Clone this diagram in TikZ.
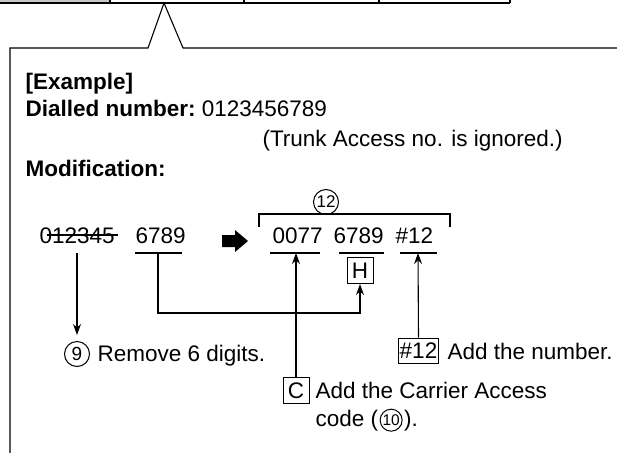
\documentclass[tikz,border=0pt]{standalone}
\usepackage{fontspec}
\setmainfont{Liberation Sans}
\usetikzlibrary{arrows.meta}
\usetikzlibrary{positioning}

\tikzset{
    txt/.style={anchor=base west,inner sep=0pt},
    keybox/.style={draw,line width=1pt,inner sep=1.5pt,minimum width=26pt,minimum height=26pt},
    circnum/.style={draw,circle,line width=1pt,inner sep=0pt,minimum size=#1},
    arr/.style={-{Stealth[length=11pt,width=8pt]}}
}

\begin{document}
\begin{tikzpicture}[x=1pt,y=-1pt,line width=1.1pt,font=\fontsize{22.5}{27}\selectfont]
        \useasboundingbox (0,0) rectangle (617,452);

        \fill[black!22] (0,0) rectangle (110,3);
        \draw (0,3) -- (510,3);
        \foreach \x in {110,244,379,510} \draw (\x,0) -- (\x,3);

        \coordinate (c0) at (10,460);
        \coordinate (c1) at (10,48);
        \coordinate (c2) at (148,48);
        \coordinate (c3) at (164,3);
        \coordinate (c4) at (183,48);
        \coordinate (c5) at (625,48);
        \draw (c0) -- (c1) -- (c2) -- (c3) -- (c4) -- (c5);

        \node[txt] (ex) at (25,89) {\bfseries [Example]};
        \node[txt] (dial) at (25,116) {{\bfseries Dialled number:}\ 0123456789};
        \node[txt] (trunk) at (262,146) {(Trunk Access no. is ignored.)};
        \node[txt] (mod) at (25,176) {\bfseries Modification:};

        \node[txt] (old) at (39,243) {012345};
        \node[txt] (keep) at (135,243) {6789};
        \draw ([xshift=8pt,yshift=8pt]old.base west) -- ([xshift=3pt,yshift=8pt]old.base east);
        \coordinate (u0) at (77,253);
        \coordinate (u1) at (158,253);
        \draw (135,253) -- (182,253);

        \fill (222,235) -- (235,235) -- (235,230) -- (248,241) -- (235,252) -- (235,247) -- (222,247) -- cycle;

        \node[txt] (cc) at (272,243) {0077};
        \node[txt] (nk) at (333,243) {6789};
        \node[txt] (hs) at (395,243) {\#12};
        \draw (270,253) -- (320,253);
        \draw (339,253) -- (384,253);
        \draw (400,253) -- (437,253);
        \coordinate (u2) at (296,253);
        \coordinate (u3) at (418,253);

        \draw (259,227) -- (259,214) -- (450,214) -- (450,227);
        \node[circnum=25pt,font=\fontsize{17}{17}\selectfont] (n12) at (326,202) {12};

        \node[circnum=25pt,font=\fontsize{19}{19}\selectfont] (n9) at (77,354) {9};
        \node[txt] (rm) at (97,361) {Remove 6 digits.};
        \draw[arr,shorten >=6pt] (u0) -- (n9);

        \node[keybox] (hbox) at (360,270.5) {H};
        \coordinate (bend) at (158,313);
        \draw[arr] (u1) -- (bend) -| (hbox.south);

        \node[keybox] (cbox) at (296,390.5) {C};
        \node[txt] (cr1) at (315,398) {Add the Carrier Access};
        \node[txt] (cr2) at (315,426) {code (};
        \node[circnum=22pt,font=\fontsize{15.5}{15.5}\selectfont,right=1pt of cr2] (n10) {10};
        \node[txt] (cr3) at ([xshift=1pt]n10.east |- cr2.base) {).};
        \draw[arr] (cbox.north) -- (u2);

        \node[keybox,minimum height=25pt] (pbox) at (418.5,350.5) {\#12};
        \node[txt] (addn) at (447,359) {Add the number.};
        \draw[arr] (pbox.north) -- (u3);
    \end{tikzpicture}
\end{document}
